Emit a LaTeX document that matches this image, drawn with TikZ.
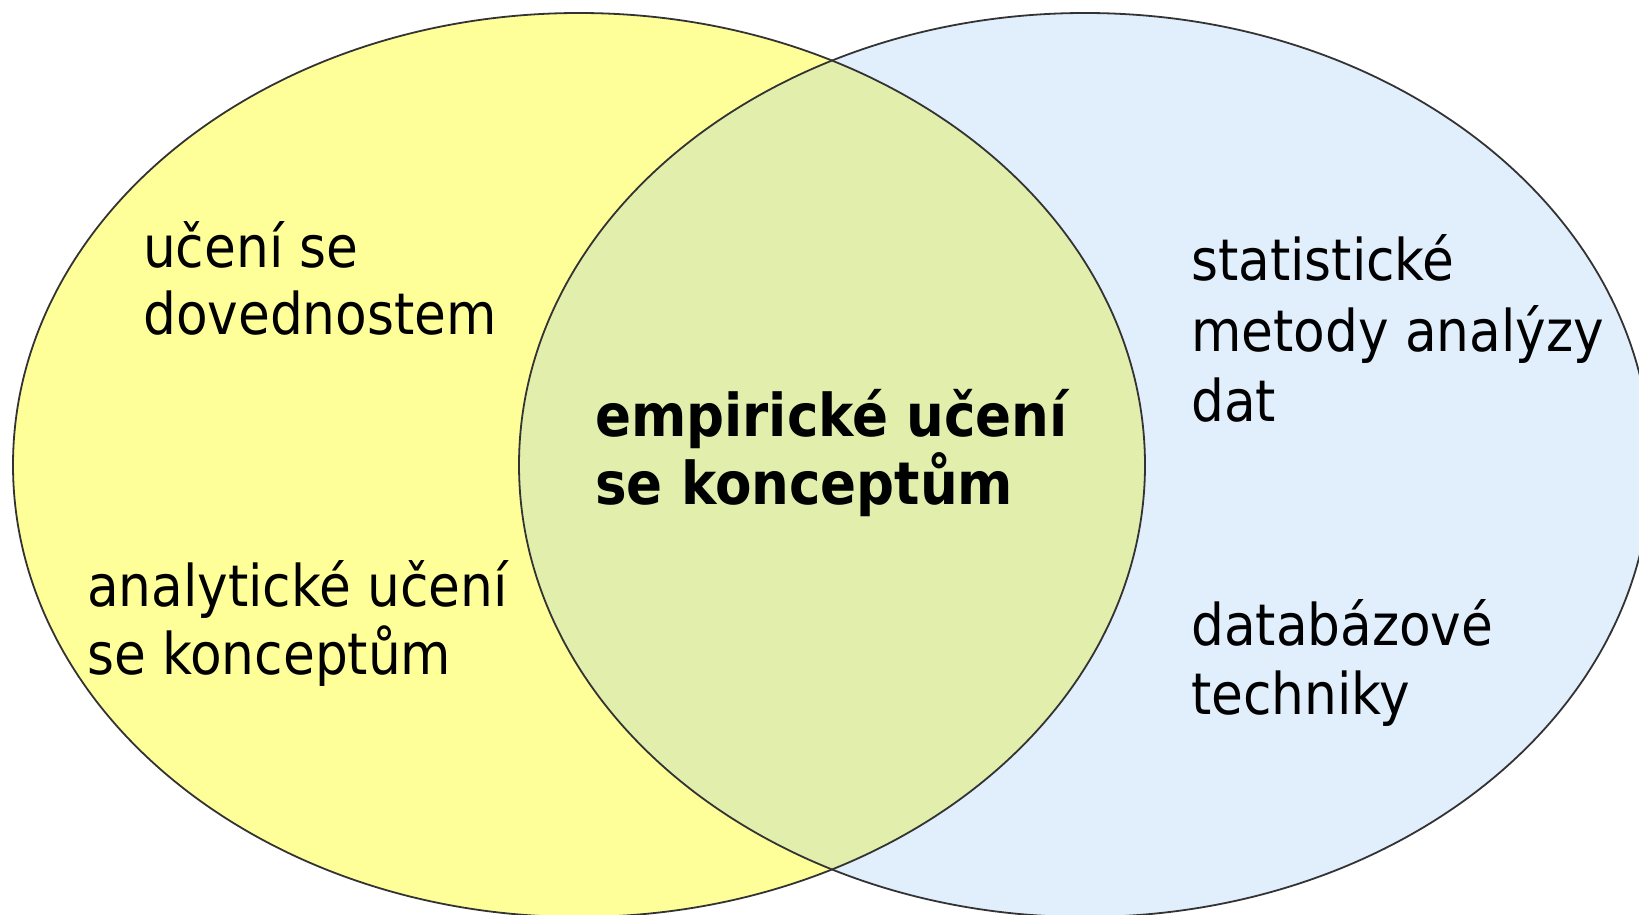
\documentclass[tikz,border=0pt]{standalone}
\usepackage{fontspec}
\setmainfont{DejaVu Sans Condensed}
\definecolor{yel}{HTML}{FFFF99}
\definecolor{blu}{HTML}{E1EFFC}
\definecolor{ovl}{HTML}{E1EEAC}
\definecolor{edge}{HTML}{333333}
\tikzset{
  lbl/.style={anchor=base west, inner sep=0pt, font=\fontsize{57.5}{68}\selectfont},
  blbl/.style={anchor=base west, inner sep=0pt, font=\fontsize{59}{69}\selectfont\bfseries},
  outline/.style={draw=edge, line width=1.8pt}
}
\begin{document}
\begin{tikzpicture}[x=1pt,y=-1pt]
\useasboundingbox (0,0) rectangle (1639,915);
\fill[white] (0,0) rectangle (1639,915);
\fill[yel] (579,465) ellipse [x radius=566, y radius=452];
\fill[blu] (1085,465) ellipse [x radius=566, y radius=452];
\begin{scope}
  \clip (579,465) ellipse [x radius=566, y radius=452];
  \fill[ovl] (1085,465) ellipse [x radius=566, y radius=452];
\end{scope}
\draw[outline] (579,465) ellipse [x radius=566, y radius=452];
\draw[outline] (1085,465) ellipse [x radius=566, y radius=452];

\node[lbl] (u1) at (143,267) {učení se};
\node[lbl] (u2) at (143,334) {dovednostem};
\node[lbl] (a1) at (87,606) {analytické učení};
\node[lbl] (a2) at (87,674) {se konceptům};
\node[blbl] (e1) at (595,436) {empirické učení};
\node[blbl] (e2) at (595,504) {se konceptům};
\node[lbl] (s1) at (1191,280) {statistické};
\node[lbl] (s2) at (1191,351) {metody analýzy};
\node[lbl] (s3) at (1191,421) {dat};
\node[lbl] (d1) at (1191,645) {databázové};
\node[lbl] (d2) at (1191,714) {techniky};
\end{tikzpicture}
\end{document}
